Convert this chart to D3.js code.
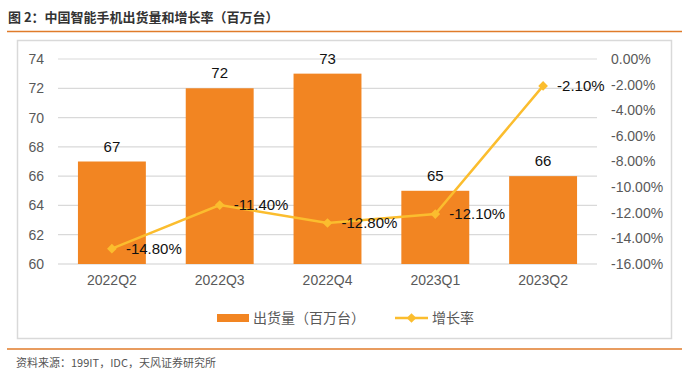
<!DOCTYPE html>
<html><head><meta charset="utf-8">
<script src="https://cdn.jsdelivr.net/npm/d3@7/dist/d3.min.js"></script>
<style>
body{margin:0;background:#fff;}
svg text{font-family:"Liberation Sans",Arial,"Noto Sans CJK SC",sans-serif;}
</style></head>
<body>
<script>
const categories = ["2022Q2","2022Q3","2022Q4","2023Q1","2023Q2"];
const shipments = [67,72,73,65,66];
const growth = [-14.8,-11.4,-12.8,-12.1,-2.1];
const leftTicks = [60,62,64,66,68,70,72,74];
const rightTicks = [0,-2,-4,-6,-8,-10,-12,-14,-16];
const title = "图 2：中国智能手机出货量和增长率（百万台）";
const source = "资料来源：199IT，IDC，天风证券研究所";
const legendLabels = ["出货量（百万台）","增长率"];

const W=697,H=384;
const svg=d3.select("body").append("svg").attr("width",W).attr("height",H);
const cjk='"Noto Sans CJK SC","Microsoft YaHei",sans-serif';
const pct=d=>d3.format(".2f")(d).replace("\u2212","-")+"%";

// title
svg.append("text").attr("x",8).attr("y",22).text(title)
  .style("font-family",cjk).style("font-size","13px").style("font-weight","bold").attr("fill","#333");
svg.append("line").attr("x1",7).attr("x2",682).attr("y1",31.5).attr("y2",31.5).attr("stroke","#E07B2A").attr("stroke-width",1.5);
// chart border
svg.append("rect").attr("x",17.5).attr("y",40.5).attr("width",654).attr("height",298).attr("fill","none").attr("stroke","#D9D9D9").attr("stroke-width",1.5);

const x=d3.scaleBand().domain(categories).range([58,597]).paddingInner(0.37).paddingOuter(0.185);
const y=d3.scaleLinear().domain([60,74]).range([264,59]);
const y2=d3.scaleLinear().domain([-16,0]).range([264,59]);

// grid
svg.append("g").selectAll("line").data(leftTicks).join("line")
  .attr("x1",58).attr("x2",597).attr("y1",d=>y(d)).attr("y2",d=>y(d))
  .attr("stroke",d=>d===60?"#D0D0D0":"#D9D9D9").attr("stroke-width",1.2);

// left axis
const la=svg.append("g").attr("transform","translate(44,0)")
  .call(d3.axisLeft(y).tickValues(leftTicks).tickSize(0).tickPadding(0));
la.select(".domain").remove();
la.selectAll("text").style("font-size","14px").attr("fill","#595959").style("font-family","'Liberation Sans',Arial,sans-serif");

// right axis
const ra=svg.append("g").attr("transform","translate(611,0)")
  .call(d3.axisRight(y2).tickValues(rightTicks).tickSize(0).tickPadding(0).tickFormat(pct));
ra.select(".domain").remove();
ra.selectAll("text").style("font-size","14px").attr("fill","#595959").style("font-family","'Liberation Sans',Arial,sans-serif");

// x axis
const xa=svg.append("g").attr("transform","translate(0,275)")
  .call(d3.axisBottom(x).tickSize(0).tickPadding(0));
xa.select(".domain").remove();
xa.selectAll("text").attr("dy","0.71em").style("font-size","14px").attr("fill","#595959").style("font-family","'Liberation Sans',Arial,sans-serif");

// bars
const barColor="#F28522";
svg.append("g").selectAll("rect").data(shipments).join("rect")
  .attr("x",(d,i)=>x(categories[i])).attr("width",x.bandwidth())
  .attr("y",d=>y(d)).attr("height",d=>y(60)-y(d)).attr("fill",barColor);
svg.append("g").selectAll("text").data(shipments).join("text")
  .attr("x",(d,i)=>x(categories[i])+x.bandwidth()/2).attr("y",d=>y(d)-10)
  .attr("text-anchor","middle").style("font-size","15px").attr("fill","#111").text(d=>d);

// line
const lineColor="#FBBD2E";
const cx=i=>x(categories[i])+x.bandwidth()/2;
svg.append("path").datum(growth)
  .attr("d",d3.line().x((d,i)=>cx(i)).y(d=>y2(d)))
  .attr("fill","none").attr("stroke",lineColor).attr("stroke-width",2.5);
svg.append("g").selectAll("path").data(growth).join("path")
  .attr("d",d3.symbol(d3.symbolDiamond2,60))
  .attr("transform",(d,i)=>`translate(${cx(i)},${y2(d)})`).attr("fill",lineColor);
svg.append("g").selectAll("text").data(growth).join("text")
  .attr("x",(d,i)=>cx(i)+14).attr("y",d=>y2(d)).attr("dy","0.36em")
  .style("font-size","15px").attr("fill","#111").text(pct);

// legend
const lg=svg.append("g");
lg.append("rect").attr("x",217).attr("y",314).attr("width",32).attr("height",8).attr("fill",barColor);
lg.append("text").attr("x",253).attr("y",318).attr("dy","0.36em").text(legendLabels[0])
  .style("font-family",cjk).style("font-size","14px").attr("fill","#595959");
lg.append("line").attr("x1",395).attr("x2",428).attr("y1",318).attr("y2",318).attr("stroke",lineColor).attr("stroke-width",2.5);
lg.append("path").attr("d",d3.symbol(d3.symbolDiamond2,60)).attr("transform","translate(411.5,318)").attr("fill",lineColor);
lg.append("text").attr("x",432).attr("y",318).attr("dy","0.36em").text(legendLabels[1])
  .style("font-family",cjk).style("font-size","14px").attr("fill","#595959");

// bottom
svg.append("line").attr("x1",7).attr("x2",682).attr("y1",349).attr("y2",349).attr("stroke","#E07B2A").attr("stroke-width",1.5);
svg.append("text").attr("x",16).attr("y",367).text(source)
  .style("font-family",cjk).style("font-size","11px").attr("fill","#555");
</script>
</body></html>
